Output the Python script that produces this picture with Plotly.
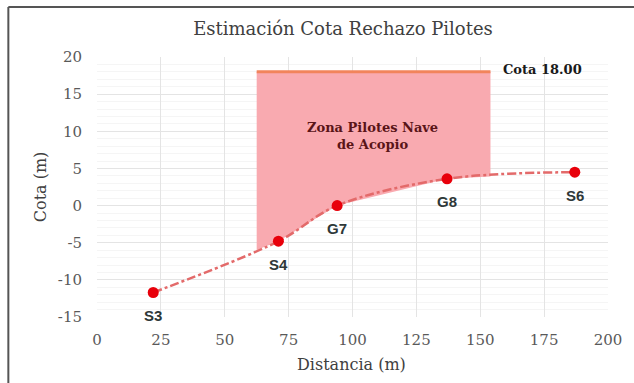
import numpy as np
import plotly.graph_objects as go

# ---- data ----
sondeos = ["S3", "S4", "G7", "G8", "S6"]
distancia = [22, 71, 94, 137, 187]
cota = [-11.7, -4.8, 0.0, 3.6, 4.5]

zona_x = [62.5, 154]      # horizontal extent of the pile zone
cota_tope = 18.0          # top level of the zone
x_ticks = [0, 25, 50, 75, 100, 125, 150, 175, 200]
y_ticks = [-15, -10, -5, 0, 5, 10, 15, 20]
y_ticktext = ["-15", "-10", "-5", "0", "5", "10", "15", "20"]

# ---- geometry of the shaded zone built from the data ----
x0, x1 = zona_x
y0 = float(np.interp(x0, distancia, cota))
y1 = float(np.interp(x1, distancia, cota))
inner = [(d, c) for d, c in zip(distancia, cota) if x0 < d < x1]
poly_x = [x0] + [d for d, _ in inner] + [x1, x1, x0, x0]
poly_y = [y0] + [c for _, c in inner] + [y1, cota_tope, cota_tope, y0]

SERIF = "DejaVu Serif"
SANS = "Liberation Sans"

fig = go.Figure()

fig.add_trace(go.Scatter(
    x=poly_x, y=poly_y, mode="lines", fill="toself",
    fillcolor="#f9aab0", line=dict(width=0), hoverinfo="skip",
    showlegend=False))

fig.add_trace(go.Scatter(
    x=zona_x, y=[cota_tope, cota_tope], mode="lines",
    line=dict(color="#f2845c", width=3), showlegend=False))

fig.add_trace(go.Scatter(
    x=distancia, y=cota, mode="lines",
    line=dict(color="#e36a6a", width=2.5, dash="dashdot", shape="spline"),
    showlegend=False))

fig.add_trace(go.Scatter(
    x=distancia, y=cota, mode="markers",
    marker=dict(color="#e8000b", size=11),
    showlegend=False))

for s, d, c in zip(sondeos, distancia, cota):
    fig.add_annotation(x=d, y=c, text=f"<b>{s}</b>", showarrow=False,
                       yshift=-23, font=dict(family=SANS, size=15, color="#2e3838"))

fig.add_annotation(x=174.5, y=cota_tope + 0.3, text="<b>Cota 18.00</b>", showarrow=False,
                   font=dict(family=SERIF, size=13, color="#1a1a1a"))
fig.add_annotation(x=108, y=9.3, text="<b>Zona Pilotes Nave<br>de Acopio</b>",
                   showarrow=False,
                   font=dict(family=SERIF, size=13, color="#5a1518"))

# axis titles
fig.add_annotation(xref="paper", yref="paper", x=(352 - 97) / 513, y=(317 - 364) / 260,
                   text="Distancia (m)", showarrow=False, xanchor="center", yanchor="middle",
                   font=dict(family=SERIF, size=16, color="#404040"))
fig.add_annotation(xref="paper", yref="paper", x=(40 - 97) / 513, y=(317 - 187) / 260,
                   text="Cota (m)", showarrow=False, textangle=-90,
                   xanchor="center", yanchor="middle",
                   font=dict(family=SERIF, size=16, color="#404040"))

# outer frame (left and top edges visible)
fy = 1 + (57 - 7) / 260
fx = (8 - 97) / 513
fig.add_shape(type="line", xref="paper", yref="paper",
              x0=fx, x1=1.2, y0=fy, y1=fy, line=dict(color="#555555", width=2))
fig.add_shape(type="line", xref="paper", yref="paper",
              x0=fx, x1=fx, y0=fy, y1=-0.3, line=dict(color="#555555", width=2))

fig.update_layout(
    width=634, height=383,
    margin=dict(l=97, r=24, t=57, b=66),
    paper_bgcolor="white", plot_bgcolor="white",
    title=dict(text="Estimación Cota Rechazo Pilotes", x=343 / 634,
               xanchor="center", y=1 - 29 / 383, yanchor="middle",
               font=dict(family=SERIF, size=18, color="#404040")),
    xaxis=dict(range=[0, 200], tickvals=x_ticks, showgrid=True, gridcolor="#e4e4e4",
               gridwidth=1, zeroline=False, showline=False,
               tickfont=dict(family=SERIF, size=15, color="#595959"),
               ticklabelstandoff=12),
    yaxis=dict(range=[-15, 20], tickvals=y_ticks, ticktext=y_ticktext,
               showgrid=True, gridcolor="#e4e4e4",
               gridwidth=1, zeroline=False, showline=False,
               minor=dict(dtick=1, showgrid=True, gridcolor="#f5f5f5", gridwidth=1),
               tickfont=dict(family=SERIF, size=15, color="#595959"),
               ticklabelstandoff=14),
)

fig.write_html("out.html")
